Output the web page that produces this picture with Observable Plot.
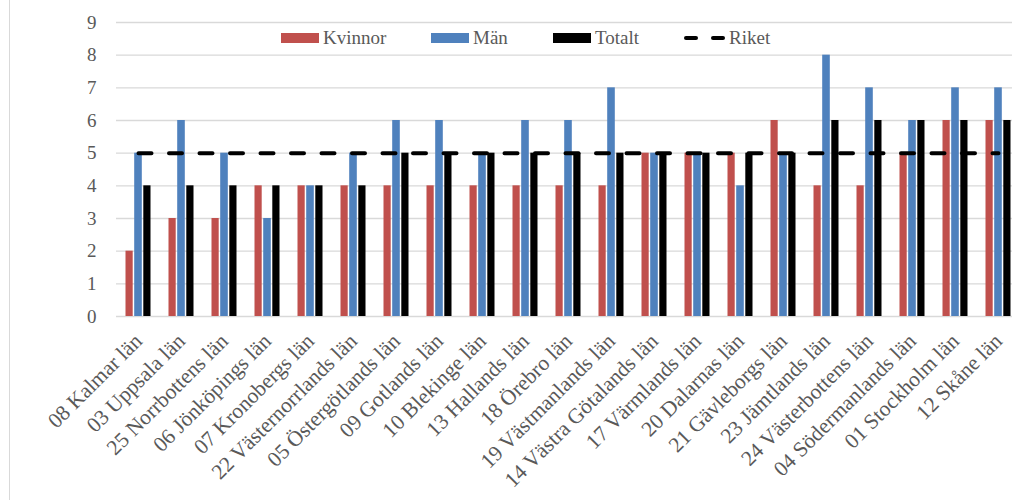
<!DOCTYPE html>
<html><head><meta charset="utf-8">
<script src="https://cdn.jsdelivr.net/npm/d3@7"></script>
<script src="https://cdn.jsdelivr.net/npm/@observablehq/plot@0.6"></script>
<style>
body{margin:0;background:#fff;}
#wrap{position:relative;width:1012px;height:500px;overflow:hidden;}
#border{position:absolute;left:9px;top:0;width:1px;height:500px;background:#d9d9d9;}
.leg{position:absolute;top:27px;height:22px;display:flex;align-items:center;font-family:'Liberation Serif',serif;font-size:19px;color:#595959;white-space:nowrap;}
.sw{width:38px;height:10px;margin-right:4px;}
.dash{width:14px;height:4px;border-radius:2px;background:#000;}
</style></head>
<body><div id="wrap"><div id="border"></div></div>
<script>
const regions = ["08 Kalmar län","03 Uppsala län","25 Norrbottens län","06 Jönköpings län","07 Kronobergs län","22 Västernorrlands län","05 Östergötlands län","09 Gotlands län","10 Blekinge län","13 Hallands län","18 Örebro län","19 Västmanlands län","14 Västra Götalands län","17 Värmlands län","20 Dalarnas län","21 Gävleborgs län","23 Jämtlands län","24 Västerbottens län","04 Södermanlands län","01 Stockholm län","12 Skåne län"];
const kvinnor = [2,3,3,4,4,4,4,4,4,4,4,4,5,5,5,6,4,4,5,6,6];
const man     = [5,6,5,3,4,5,6,6,5,6,6,7,5,5,4,5,8,7,6,7,7];
const totalt  = [4,4,4,4,4,4,5,5,5,5,5,5,5,5,5,5,6,6,6,6,6];
const riket   = [5,5,5,5,5,5,5,5,5,5,5,5,5,5,5,5,5,5,5,5,5];
const yTicks  = [0,1,2,3,4,5,6,7,8,9];
const seriesNames = ["Kvinnor","Män","Totalt","Riket"];
const colors = {Kvinnor:"#C0504D", Män:"#4F81BD", Totalt:"#000000"};

const data = regions.map((r,i)=>({region:r, Kvinnor:kvinnor[i], Män:man[i], Totalt:totalt[i], Riket:riket[i]}));

const chart = Plot.plot({
  width: 1012, height: 500,
  marginLeft: 116, marginRight: 0, marginTop: 22, marginBottom: 184,
  style: {fontFamily: "'Liberation Serif','Times New Roman',serif", fontSize: "19px", color: "#595959", background: "transparent"},
  x: {domain: regions, range: [116, 1019], paddingInner: 0.4, paddingOuter: 0.2, label: null},
  y: {domain: [0, 9], label: null},
  marks: [
    Plot.ruleY(yTicks, {stroke: "#d9d9d9", strokeWidth: 1.3}),
    Plot.barY(data, {x: "region", y: "Kvinnor", fill: colors.Kvinnor, insetLeft: 0.5, insetRight: 18.3}),
    Plot.barY(data, {x: "region", y: "Män", fill: colors["Män"], insetLeft: 9.2, insetRight: 9.2}),
    Plot.barY(data, {x: "region", y: "Totalt", fill: colors.Totalt, insetLeft: 18.3, insetRight: 0.5}),
    Plot.lineY(data, {x: "region", y: "Riket", stroke: "#000", strokeWidth: 4, strokeDasharray: "13,17.5", strokeLinecap: "round"}),
    Plot.axisY({ticks: yTicks, tickSize: 0, tickPadding: 20, fontSize: 19, tickFormat: d3.format("d")}),
    Plot.axisX({tickSize: 0, tickRotate: -45, tickPadding: 21, fontSize: 21.5})
  ]
});
const wrap = document.getElementById("wrap");
wrap.appendChild(chart);
chart.style.position = "absolute"; chart.style.left = "0"; chart.style.top = "0";

const legendLefts = [281, 431, 553, 684];
seriesNames.forEach((name, i) => {
  const item = document.createElement("div");
  item.className = "leg";
  item.style.left = legendLefts[i] + "px";
  if (name === "Riket") {
    const d1 = document.createElement("div"); d1.className = "dash";
    const d2 = document.createElement("div"); d2.className = "dash"; d2.style.marginLeft = "13px"; d2.style.marginRight = "4px";
    item.appendChild(d1); item.appendChild(d2);
  } else {
    const sw = document.createElement("div"); sw.className = "sw"; sw.style.background = colors[name];
    item.appendChild(sw);
  }
  const t = document.createElement("span"); t.textContent = name;
  item.appendChild(t);
  wrap.appendChild(item);
});
</script></body></html>
